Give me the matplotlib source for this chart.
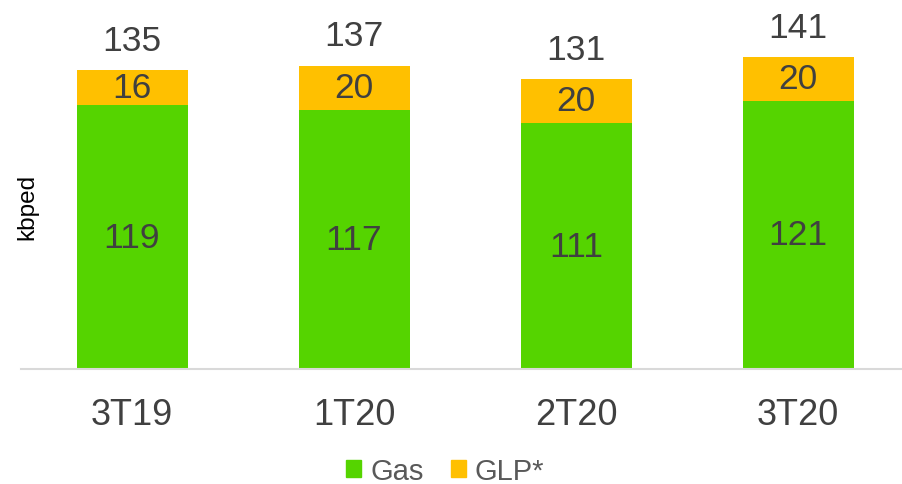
import numpy as np
import matplotlib
matplotlib.use("Agg")
import matplotlib.pyplot as plt
from matplotlib.patches import Patch

# data
periods = ["3T19", "1T20", "2T20", "3T20"]
gas = [119, 117, 111, 121]
glp = [16, 20, 20, 20]
totals = [135, 137, 131, 141]

green = "#55D400"
orange = "#FFC000"
txt = "#404040"

plt.rcParams["font.family"] = ["Liberation Sans", "DejaVu Sans"]

fig = plt.figure(figsize=(9.02, 4.85), dpi=100)
# axes placed in pixels: left 21, baseline at 370, 2.215 px per unit
ax = fig.add_axes([21 / 902, 115 / 485, 888 / 902, 150 * 2.215 / 485])
ax.set_xlim(-0.5, 3.5)
ax.set_ylim(0, 150)

x = np.arange(len(periods))
ax.bar(x, gas, width=0.5, color=green, label="Gas")
ax.bar(x, glp, width=0.5, bottom=gas, color=orange, label="GLP*")

fs = 25.5
for i in range(len(x)):
    ax.text(x[i], gas[i] / 2, str(gas[i]), ha="center", va="center",
            fontsize=fs, color=txt)
    ax.text(x[i], gas[i] + glp[i] / 2, str(glp[i]), ha="center", va="center",
            fontsize=fs, color=txt)
    ax.annotate(str(totals[i]), (x[i], totals[i]), xytext=(0, 14.5),
                textcoords="offset points", ha="center", va="baseline",
                fontsize=fs, color=txt)

for s in ["top", "right", "left"]:
    ax.spines[s].set_visible(False)
ax.spines["bottom"].set_color("#D9D9D9")
ax.spines["bottom"].set_linewidth(1.5)
ax.set_yticks([])
ax.set_xticks(x)
ax.set_xticklabels(periods, fontsize=26, color=txt)
ax.tick_params(axis="x", length=0, pad=20)

fig.text(27 / 902, 1 - 207 / 485, "kbped", rotation=90, ha="center",
         va="center", fontsize=17.5, color="#000000")

handles = [Patch(color=green, label="Gas"), Patch(color=orange, label="GLP*")]
leg = fig.legend(handles=handles, loc="center", bbox_to_anchor=(445 / 902, 1 - 472 / 485),
                 ncol=2, frameon=False, fontsize=21, handlelength=0.52,
                 handleheight=0.52, handletextpad=0.31, columnspacing=0.93,
                 borderpad=0, borderaxespad=0)
for t in leg.get_texts():
    t.set_color("#595959")

fig.savefig("out.png", dpi=100)
